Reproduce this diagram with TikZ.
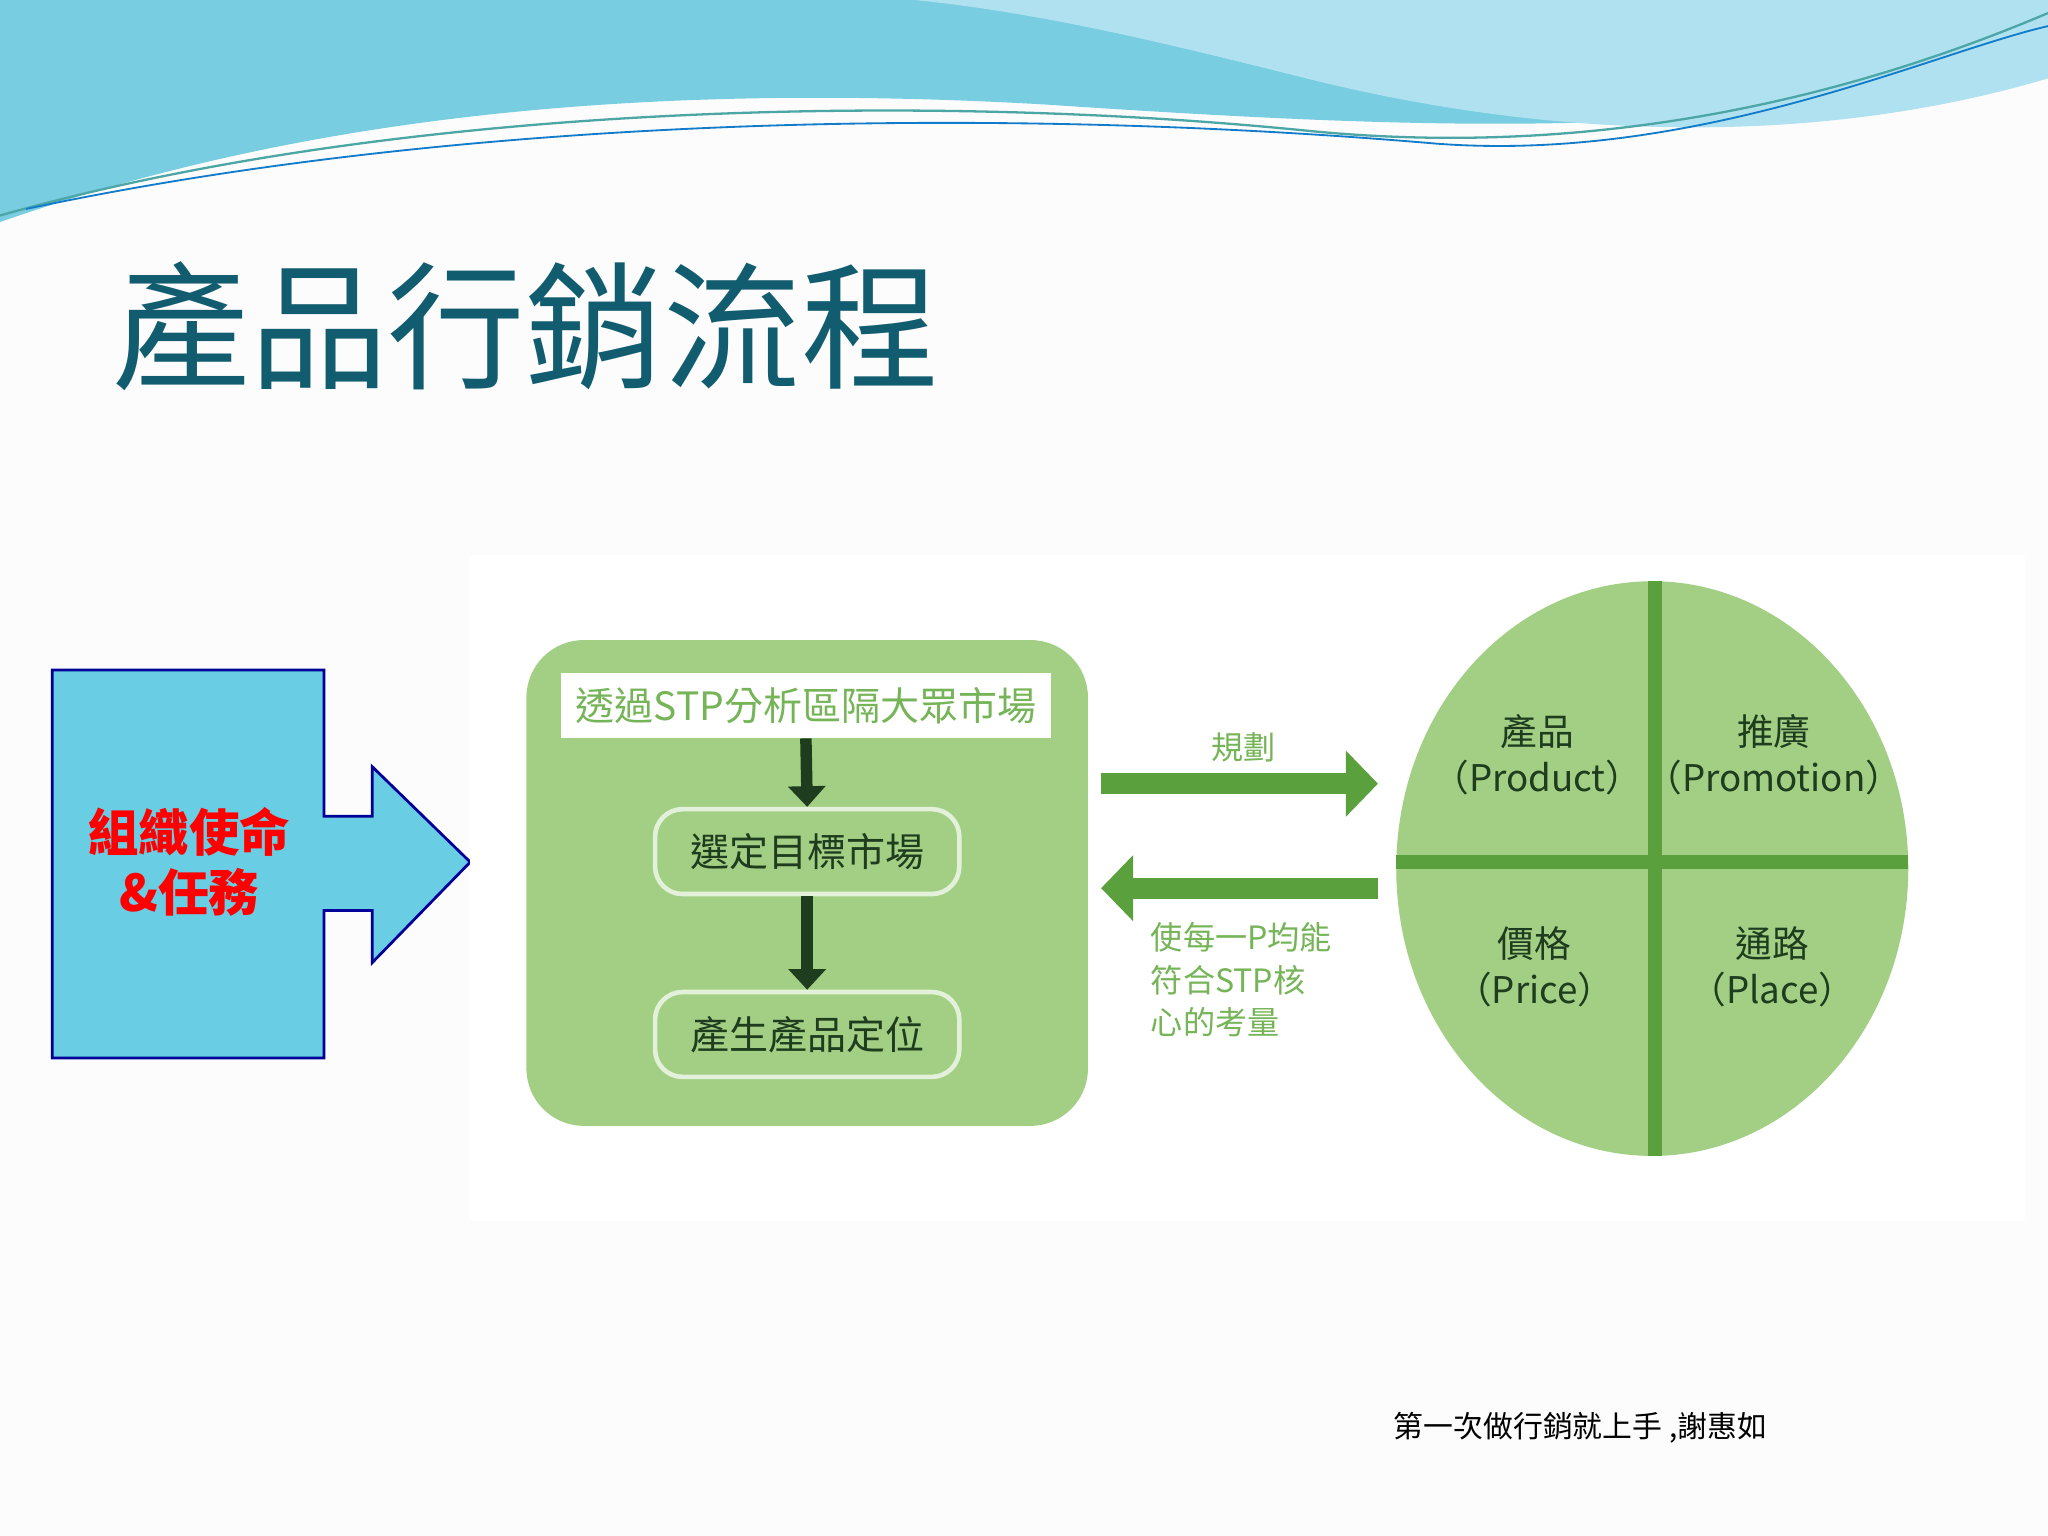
\documentclass[tikz,border=0pt]{standalone}
\usepackage{fontspec}
\newfontfamily\cjk{Noto Sans CJK TC}
\usetikzlibrary{arrows.meta}
\definecolor{teal1}{RGB}{18,92,112}
\definecolor{gfill}{RGB}{163,207,132}
\definecolor{gtext}{RGB}{118,180,88}
\definecolor{gdark}{RGB}{30,60,30}
\definecolor{garrow}{RGB}{90,160,60}
\definecolor{cyanf}{RGB}{105,205,228}
\definecolor{wave1}{RGB}{120,205,225}
\definecolor{wave2}{RGB}{175,225,240}
\tikzset{
 inner/.style={draw=white!70!gfill,line width=2pt,rounded corners=12pt,fill=gfill,minimum width=4.66cm,minimum height=1.3cm,font=\cjk\fontsize{17}{20}\selectfont,text=gdark},
 quad/.style={align=center,font=\cjk\fontsize{16}{20}\selectfont,text=gdark},
 darr/.style={-{Triangle[length=9pt,width=16pt]},line width=5pt,gdark}
}
\begin{document}
\begin{tikzpicture}[x=0.02cm,y=-0.02cm]
\useasboundingbox (0,0) rectangle (1568,1176);
\fill[white!95!gray!50] (0,0) rectangle (1568,1176);
% top waves
\fill[wave1] (0,0) -- (1568,0) -- (1568,40) .. controls (1350,110) and (1100,100) .. (800,80) .. controls (450,60) and (200,100) .. (0,170) -- cycle;
\fill[wave2] (700,0) -- (1568,0) -- (1568,60) .. controls (1400,110) and (1200,110) .. (1000,60) .. controls (900,35) and (800,10) .. (700,0) -- cycle;
\draw[teal!70,line width=1pt] (0,165) .. controls (300,80) and (700,70) .. (1000,100) .. controls (1250,125) and (1450,60) .. (1568,10);
\draw[cyan!60!blue,line width=0.8pt] (20,160) .. controls (350,90) and (750,80) .. (1100,110) .. controls (1300,125) and (1480,40) .. (1568,20);
% title
\node[anchor=west,text=teal1,font=\cjk\fontsize{60}{70}\selectfont] (title) at (80,250) {產品行銷流程};
% left arrow
\draw[fill=cyanf,draw=blue!60!black,line width=1.2pt] (40,513) -- (248,513) -- (248,625) -- (285,625) -- (285,587) -- (360,660) -- (285,737) -- (285,697) -- (248,697) -- (248,810) -- (40,810) -- cycle;
\node[align=center,text=red,font=\cjk\bfseries\fontsize{22}{26}\selectfont] (mission) at (145,660) {組織使命\\\&任務};
% white panel
\fill[white] (360,425) rectangle (1550,935);
% green box
\node[fill=gfill,rounded corners=25pt,minimum width=8.6cm,minimum height=7.44cm] (gbox) at (618,676) {};
\node[fill=white,minimum width=7.5cm,minimum height=1cm,text=gtext,font=\cjk\fontsize{17}{20}\selectfont] (stp) at (617,540) {透過STP分析區隔大眾市場};
\node[inner] (target) at (618,652) {選定目標市場};
\node[inner] (pos) at (618,792) {產生產品定位};
\draw[darr] (stp.south) -- (target.north);
\draw[darr] (target.south) -- (pos.north);
% arrows
\coordinate (a1) at (843,600); \coordinate (a2) at (1055,600);
\coordinate (b1) at (1055,680); \coordinate (b2) at (843,680);
\draw[-{Triangle[length=14pt,width=28pt]},line width=9pt,garrow] (a1) -- (a2);
\draw[-{Triangle[length=14pt,width=28pt]},line width=9pt,garrow] (b1) -- (b2);
\node[text=gtext,font=\cjk\fontsize{14}{16}\selectfont] (plan) at (952,572) {規劃};
\node[anchor=north west,align=left,text=gtext,font=\cjk\fontsize{14}{18.5}\selectfont] (note) at (875,700) {使每一P均能\\符合STP核\\心的考量};
% circle
\fill[gfill] (1265,665) ellipse [x radius=196, y radius=220];
\draw[garrow,line width=6pt] (1267,445) -- (1267,885);
\draw[garrow,line width=6pt] (1069,660) -- (1461,660);
\node[quad] (q1) at (1177,578) {產品\\（Product）};
\node[quad] (q2) at (1358,578) {推廣\\（Promotion）};
\node[quad] (q3) at (1175,740) {價格\\（Price）};
\node[quad] (q4) at (1357,740) {通路\\（Place）};
% footer
\node[font=\cjk\fontsize{13}{15}\selectfont] (foot) at (1210,1093) {第一次做行銷就上手 ,謝惠如};
\end{tikzpicture}
\end{document}
